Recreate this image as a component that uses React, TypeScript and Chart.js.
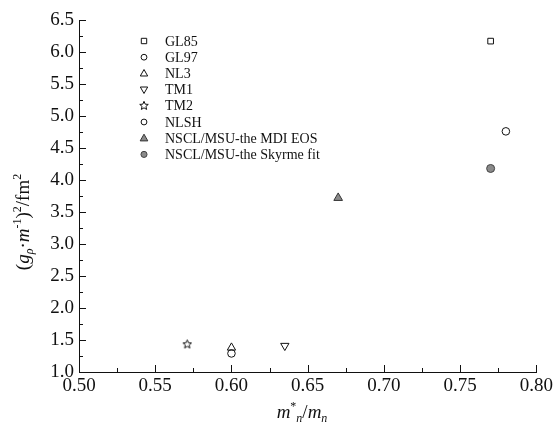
import React, { useEffect, useRef } from "react";
import { Chart, registerables } from "chart.js";
Chart.register(...registerables);

// ---- data ----
const seriesLabels = [
  "GL85",
  "GL97",
  "NL3",
  "TM1",
  "TM2",
  "NLSH",
  "NSCL/MSU-the MDI EOS",
  "NSCL/MSU-the Skyrme fit",
];
const effectiveMass = [0.77, 0.6, 0.6, 0.635, 0.571, 0.78, 0.67, 0.77];
const couplingSq = [6.17, 1.29, 1.38, 1.41, 1.44, 4.76, 3.72, 4.18];
const xTickValues = [0.5, 0.55, 0.6, 0.65, 0.7, 0.75, 0.8];
const yTickValues = [1.0, 1.5, 2.0, 2.5, 3.0, 3.5, 4.0, 4.5, 5.0, 5.5, 6.0, 6.5];

const FONT = "'Liberation Serif', 'Times New Roman', serif";

function starPath(ctx: CanvasRenderingContext2D, cx: number, cy: number, R: number) {
  const r = R * 0.45;
  ctx.beginPath();
  for (let i = 0; i < 10; i++) {
    const ang = -Math.PI / 2 + (i * Math.PI) / 5;
    const rad = i % 2 === 0 ? R : r;
    const px = cx + rad * Math.cos(ang);
    const py = cy + rad * Math.sin(ang);
    if (i === 0) ctx.moveTo(px, py);
    else ctx.lineTo(px, py);
  }
  ctx.closePath();
}

function makeStar(size: number) {
  const c = document.createElement("canvas");
  c.width = size;
  c.height = size;
  const ctx = c.getContext("2d")!;
  starPath(ctx, size / 2, size / 2 + 0.5, size / 2 - 1);
  ctx.strokeStyle = "#111";
  ctx.lineWidth = 1;
  ctx.stroke();
  return c;
}

type Marker = { kind: string; radius: number; fill: string; stroke: string };
const markerDefs: Marker[] = [
  { kind: "rect", radius: 4, fill: "rgba(0,0,0,0)", stroke: "#111" },
  { kind: "circle", radius: 3.8, fill: "rgba(0,0,0,0)", stroke: "#111" },
  { kind: "triUp", radius: 4.8, fill: "rgba(0,0,0,0)", stroke: "#111" },
  { kind: "triDown", radius: 4.8, fill: "rgba(0,0,0,0)", stroke: "#111" },
  { kind: "star", radius: 5, fill: "rgba(0,0,0,0)", stroke: "#111" },
  { kind: "circle", radius: 3.8, fill: "rgba(0,0,0,0)", stroke: "#111" },
  { kind: "triUp", radius: 5, fill: "#8a8a8a", stroke: "#333" },
  { kind: "circle", radius: 4, fill: "#8a8a8a", stroke: "#444" },
];

function drawMarker(ctx: CanvasRenderingContext2D, m: Marker, x: number, y: number, scale = 1) {
  const r = m.radius * scale;
  ctx.save();
  ctx.fillStyle = m.fill;
  ctx.strokeStyle = m.stroke;
  ctx.lineWidth = 1;
  ctx.beginPath();
  if (m.kind === "rect") {
    const s = r * 0.75 * 2;
    ctx.rect(x - s / 2, y - s / 2, s, s);
  } else if (m.kind === "circle") {
    ctx.arc(x, y, r * 0.85, 0, Math.PI * 2);
  } else if (m.kind === "triUp" || m.kind === "triDown") {
    const sgn = m.kind === "triUp" ? 1 : -1;
    const h = r * 1.5;
    const w = r * 1.7;
    ctx.moveTo(x, y - sgn * h * 0.6);
    ctx.lineTo(x + w / 2, y + sgn * h * 0.4);
    ctx.lineTo(x - w / 2, y + sgn * h * 0.4);
    ctx.closePath();
  } else if (m.kind === "star") {
    starPath(ctx, x, y, r);
  }
  ctx.fill();
  ctx.stroke();
  ctx.restore();
}

function drawRich(ctx: CanvasRenderingContext2D, parts: { t: string; italic?: boolean; dy?: number; small?: boolean }[], x: number, y: number, size: number) {
  const fontFor = (p: any) => `${p.italic ? "italic " : ""}${p.small ? Math.round(size * 0.62) : size}px ${FONT}`;
  let total = 0;
  for (const p of parts) { ctx.font = fontFor(p); total += ctx.measureText(p.t).width; }
  let cx = x - total / 2;
  ctx.textAlign = "left";
  ctx.textBaseline = "alphabetic";
  for (const p of parts) {
    ctx.font = fontFor(p);
    ctx.fillText(p.t, cx, y + (p.dy || 0));
    cx += ctx.measureText(p.t).width;
  }
}

const decorPlugin = {
  id: "decor",
  afterDraw(chart: any) {
    const ctx: CanvasRenderingContext2D = chart.ctx;
    const { left, right, bottom } = chart.chartArea;
    const xs = chart.scales.x, ys = chart.scales.y;
    ctx.save();
    ctx.strokeStyle = "#111";
    ctx.lineWidth = 1;
    ctx.beginPath();
    for (let i = 0; i < yTickValues.length; i++) {
      const py = Math.round(ys.getPixelForValue(yTickValues[i])) + 0.5;
      ctx.moveTo(left, py); ctx.lineTo(left + 7, py);
      if (i < yTickValues.length - 1) {
        const pm = Math.round(ys.getPixelForValue((yTickValues[i] + yTickValues[i + 1]) / 2)) + 0.5;
        ctx.moveTo(left, pm); ctx.lineTo(left + 4, pm);
      }
    }
    for (let i = 0; i < xTickValues.length; i++) {
      const px = Math.round(xs.getPixelForValue(xTickValues[i])) + 0.5;
      ctx.moveTo(px, bottom); ctx.lineTo(px, bottom - 7);
      if (i < xTickValues.length - 1) {
        const pm = Math.round(xs.getPixelForValue((xTickValues[i] + xTickValues[i + 1]) / 2)) + 0.5;
        ctx.moveTo(pm, bottom); ctx.lineTo(pm, bottom - 4);
      }
    }
    ctx.stroke();

    // legend
    for (let i = 0; i < seriesLabels.length; i++) {
      const ly = 41 + i * 16.2;
      drawMarker(ctx, markerDefs[i], 144, ly, 0.9);
      ctx.fillStyle = "#111";
      ctx.font = `14px ${FONT}`;
      ctx.textAlign = "left";
      ctx.textBaseline = "middle";
      ctx.fillText(seriesLabels[i], 165, ly + 1);
    }

    // axis titles
    ctx.fillStyle = "#111";
    drawRich(ctx, [
      { t: "m", italic: true },
      { t: "*", small: true, dy: -8 },
      { t: "n", italic: true, small: true, dy: 4 },
      { t: "/" },
      { t: "m", italic: true },
      { t: "n", italic: true, small: true, dy: 4 },
    ], 302, 418, 19);

    ctx.save();
    ctx.translate(29, 222);
    ctx.rotate(-Math.PI / 2);
    drawRich(ctx, [
      { t: "(" },
      { t: "g", italic: true },
      { t: "ρ", italic: true, small: true, dy: 4 },
      { t: "·" },
      { t: "m", italic: true },
      { t: "-1", small: true, dy: -8 },
      { t: ")" },
      { t: "2", small: true, dy: -8 },
      { t: "/fm" },
      { t: "2", small: true, dy: -8 },
    ], 0, 0, 19);
    ctx.restore();
    ctx.restore();
  },
};

export default function App() {
  const ref = useRef<HTMLCanvasElement>(null);
  useEffect(() => {
    if (!ref.current) return;
    const star = makeStar(11);
    const datasets = seriesLabels.map((lab, i) => {
      const m = markerDefs[i];
      const style = m.kind === "rect" ? "rect" : m.kind === "circle" ? "circle" : m.kind === "star" ? star : "triangle";
      return {
        label: lab,
        data: [{ x: effectiveMass[i], y: couplingSq[i] }],
        pointStyle: style,
        pointRadius: m.radius,
        pointRotation: m.kind === "triDown" ? 180 : 0,
        backgroundColor: m.fill,
        borderColor: m.stroke,
        borderWidth: 1,
        showLine: false,
      };
    });
    const chart = new Chart(ref.current, {
      type: "scatter",
      data: { datasets },
      plugins: [decorPlugin],
      options: {
        animation: false,
        responsive: false,
        devicePixelRatio: 1,
        layout: { padding: { left: 0, top: 20, right: 17, bottom: 0 } },
        plugins: { legend: { display: false }, tooltip: { enabled: false } },
        scales: {
          x: {
            type: "linear",
            min: 0.5,
            max: 0.8,
            afterFit: (s: any) => { s.height = 56; },
            afterBuildTicks: (s: any) => { s.ticks = xTickValues.map((v) => ({ value: v })); },
            grid: { display: false, drawTicks: false },
            border: { display: true, color: "#111", width: 1 },
            ticks: {
              padding: 3,
              color: "#111",
              font: { family: FONT, size: 19 },
              callback: (v: any) => Number(v).toFixed(2),
            },
          },
          y: {
            type: "linear",
            min: 1.0,
            max: 6.5,
            afterFit: (s: any) => { s.width = 79; },
            afterBuildTicks: (s: any) => { s.ticks = yTickValues.map((v) => ({ value: v })); },
            grid: { display: false, drawTicks: false },
            border: { display: true, color: "#111", width: 1 },
            ticks: {
              padding: 5,
              color: "#111",
              font: { family: FONT, size: 19 },
              callback: (v: any) => Number(v).toFixed(1),
            },
          },
        },
      },
    });
    return () => chart.destroy();
  }, []);
  return (
    <div style={{ position: "fixed", left: 0, top: 0, width: 556, height: 428, background: "#fff" }}>
      <canvas ref={ref} width={556} height={428} style={{ width: 556, height: 428 }} />
    </div>
  );
}
